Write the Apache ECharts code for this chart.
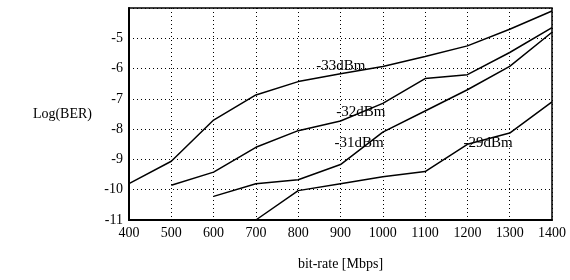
<!DOCTYPE html>
<html>
<head>
<meta charset="utf-8">
<script src="https://cdn.jsdelivr.net/npm/echarts@6/dist/echarts.min.js"></script>
<style>html,body{margin:0;padding:0;background:#fff}#c{width:570px;height:280px}</style>
</head>
<body>
<div id="c"></div>
<script>
var bitRates = [400, 500, 600, 700, 800, 900, 1000, 1100, 1200, 1300, 1400];
var yTicks = [-11, -10, -9, -8, -7, -6, -5];
var s33 = [-9.8, -9.06, -7.7, -6.87, -6.43, -6.17, -5.93, -5.6, -5.25, -4.7, -4.1];
var s32 = [null, -9.85, -9.42, -8.6, -8.05, -7.73, -7.15, -6.33, -6.2, -5.47, -4.65];
var s31 = [null, null, -10.22, -9.8, -9.67, -9.17, -8.1, -7.4, -6.7, -5.93, -4.8];
var s29 = [null, null, null, -11, -10.03, -9.8, -9.57, -9.4, -8.5, -8.13, -7.1];
var seriesNames = ['-33dBm', '-32dBm', '-31dBm', '-29dBm'];
var labelPos = [[901, -5.93], [948, -7.43], [944, -8.47], [1249, -8.47]];

var font = 'Liberation Serif';
function mk(name, vals, lp) {
  var d = [];
  for (var i = 0; i < bitRates.length; i++) if (vals[i] !== null) d.push([bitRates[i], vals[i]]);
  return {
    name: name, type: 'line', data: d, symbol: 'none', silent: true,
    lineStyle: {color: '#000', width: 1.5},
    markPoint: {
      symbol: 'circle', symbolSize: 0, silent: true,
      data: [{coord: lp, value: name}],
      label: {show: true, position: 'inside', formatter: name, color: '#000', fontFamily: font, fontSize: 15}
    }
  };
}
var chart = echarts.init(document.getElementById('c'), null, {renderer: 'canvas'});
chart.setOption({
  animation: false,
  grid: {left: 129, right: 18, top: 8, bottom: 60},
  xAxis: {
    type: 'value', min: 400, max: 1400, interval: 100,
    name: 'bit-rate [Mbps]', nameLocation: 'middle', nameGap: 37,
    nameTextStyle: {color: '#000', fontFamily: font, fontSize: 14},
    axisLine: {show: true, onZero: false, lineStyle: {color: '#000', width: 2}},
    axisTick: {show: false},
    axisLabel: {color: '#000', fontFamily: font, fontSize: 14, margin: 6,
      formatter: function (v) { return String(v); }},
    splitLine: {show: true, lineStyle: {color: '#000', type: [1, 3], width: 1}}
  },
  yAxis: {
    type: 'value', min: -11, max: -4, interval: 1,
    name: 'Log(BER)', nameLocation: 'middle', nameRotate: 0, nameGap: 37,
    nameTextStyle: {color: '#000', fontFamily: font, fontSize: 14, align: 'right'},
    axisLine: {show: true, onZero: false, lineStyle: {color: '#000', width: 2}},
    axisTick: {show: false},
    axisLabel: {color: '#000', fontFamily: font, fontSize: 14, margin: 6,
      formatter: function (v) { return yTicks.indexOf(v) >= 0 ? String(v) : ''; }},
    splitLine: {show: true, lineStyle: {color: '#000', type: [1, 3], width: 1}}
  },
  series: [
    mk(seriesNames[0], s33, labelPos[0]),
    mk(seriesNames[1], s32, labelPos[1]),
    mk(seriesNames[2], s31, labelPos[2]),
    mk(seriesNames[3], s29, labelPos[3]),
    {type: 'line', data: [], markArea: {silent: true, itemStyle: {color: 'transparent', borderColor: '#000', borderWidth: 1.5},
      data: [[{coord: [400, -11]}, {coord: [1400, -4]}]]}}
  ]
});
</script>
</body>
</html>
